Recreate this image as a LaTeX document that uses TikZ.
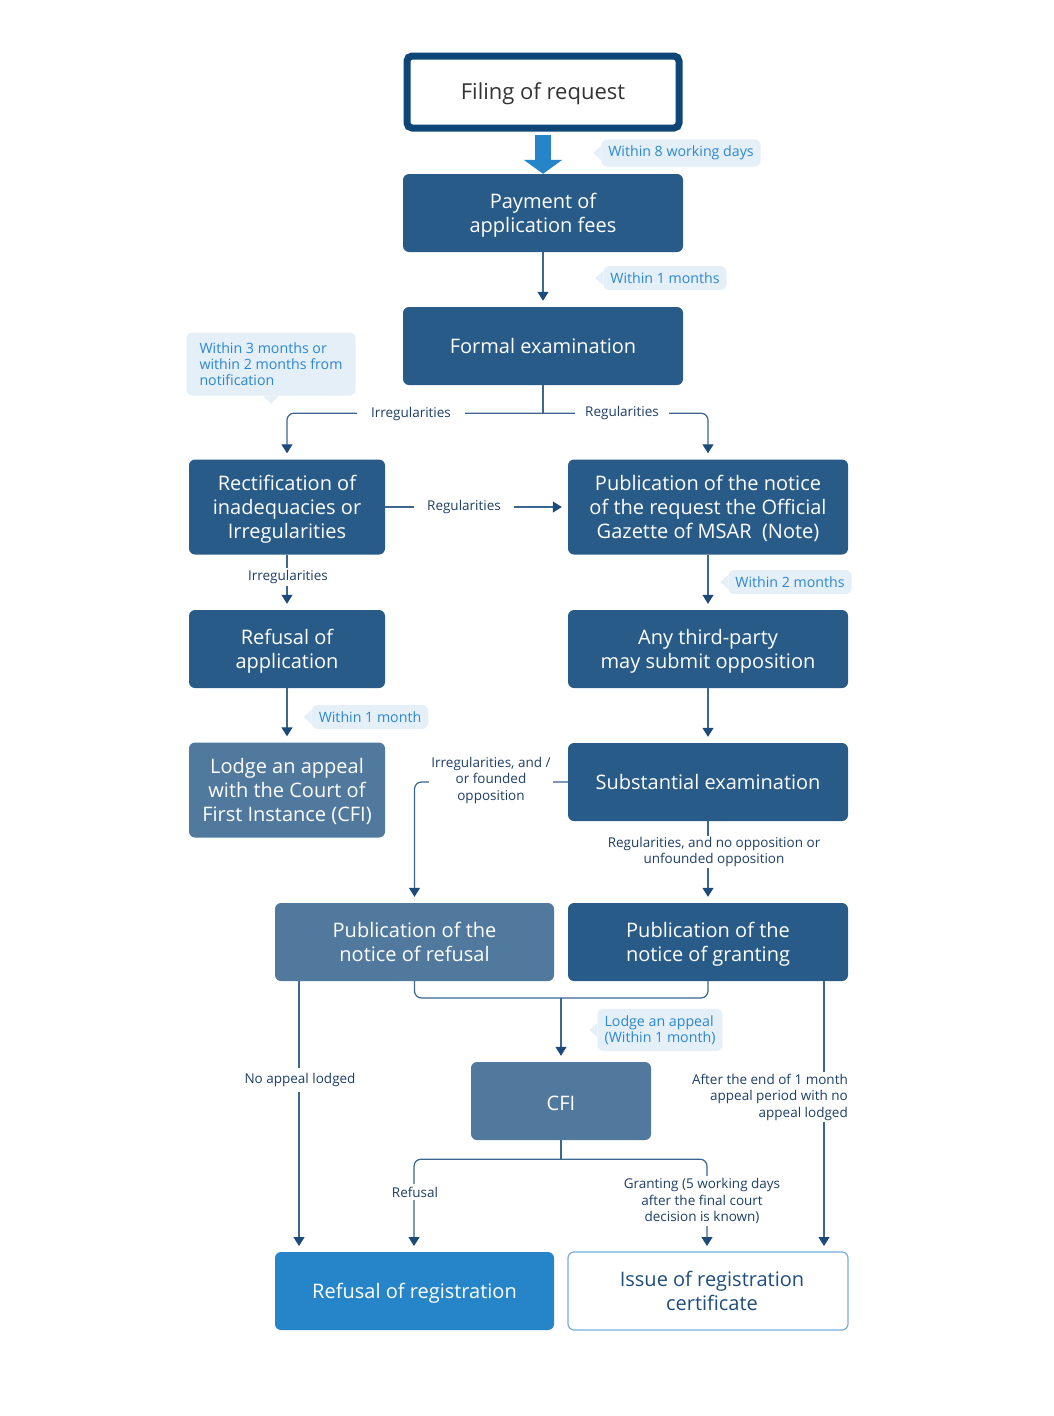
\documentclass[tikz,border=0pt]{standalone}
\usepackage{fontspec}
\setmainfont{Open Sans}
\usetikzlibrary{arrows.meta,calc}
\definecolor{darkbox}{HTML}{285B88}
\definecolor{lightbox}{HTML}{50799D}
\definecolor{brightbox}{HTML}{2685C8}
\definecolor{navyborder}{HTML}{0E4677}
\definecolor{linecol}{HTML}{3A6690}
\definecolor{tipcol}{HTML}{1D4A78}
\definecolor{labcol}{HTML}{1E3F66}
\definecolor{calltext}{HTML}{2B87D1}
\definecolor{callbg}{HTML}{E5EFF8}
\definecolor{issueborder}{HTML}{79AEDD}
\definecolor{issuetext}{HTML}{1F4D7C}
\newcommand\mlines[1]{\raisebox{-3pt}[\height][\depth]{\begin{tabular}{@{}c@{}}#1\end{tabular}}}
\newcommand\olines[1]{\raisebox{-2pt}[\height][\depth]{#1}}
\begin{document}
\begin{tikzpicture}[x=1pt,y=-1pt,
  boxbase/.style={rounded corners=6pt, align=center, inner sep=0pt,
    font=\fontsize{20}{24}\selectfont},
  darkstep/.style={boxbase, fill=darkbox, text=white},
  lightstep/.style={boxbase, fill=lightbox, text=white},
  wide/.style={minimum width=280pt, minimum height=78pt},
  narrow/.style={minimum width=196pt, minimum height=78pt},
  tall/.style={minimum height=95pt},
  conn/.style={draw=linecol, line width=1.2pt, rounded corners=7pt},
  arr/.style={conn, -{Triangle[width=11pt,length=9pt,color=tipcol]}, shorten >=6pt},
  lab/.style={fill=white, text=labcol, align=center, inner sep=3pt,
    font=\fontsize{13.5}{16.5}\selectfont},
  hlab/.style={lab, inner xsep=12pt},
  callout/.style={fill=callbg, text=calltext, rounded corners=6pt, align=left,
    inner xsep=7pt, inner ysep=6.5pt, font=\fontsize{14.2}{16}\selectfont},
]
\useasboundingbox (0,0) rectangle (1054,1416);
\fill[white] (0,0) rectangle (1054,1416);

% Nodes
\node[boxbase, wide, minimum height=72pt, minimum width=272pt, draw=navyborder, line width=7pt, fill=white, text=black!80, rounded corners=5pt, font=\fontsize{22}{24}\selectfont] (filing) at (543,92) {\olines{Filing of request}};
\node[darkstep, wide] (pay) at (543,213) {\mlines{Payment of\\application fees}};
\node[darkstep, wide] (formal) at (543,346) {Formal examination};
\node[darkstep, narrow, tall] (rect) at (287,507) {\mlines{Rectification of\\inadequacies or\\Irregularities}};
\node[darkstep, wide, tall] (pubnote) at (708,507) {\mlines{Publication of the notice\\of the request the Official\\Gazette of MSAR\ \ (Note)}};
\node[darkstep, narrow] (refapp) at (287,649) {\mlines{Refusal of\\application}};
\node[darkstep, wide] (third) at (708,649) {\mlines{Any third-party\\may submit opposition}};
\node[lightstep, narrow, tall] (lodge) at (287,790) {\mlines{Lodge an appeal\\with the Court of\\First Instance (CFI)}};
\node[darkstep, wide] (subst) at (708,782) {Substantial examination};
\node[lightstep, wide, minimum width=279pt] (pubref) at (414.5,942) {\mlines{Publication of the\\notice of refusal}};
\node[darkstep, wide] (pubgrant) at (708,942) {\mlines{Publication of the\\notice of granting}};
\node[lightstep, minimum width=180pt, minimum height=78pt] (cfi) at (561,1101) {\olines{CFI}};
\node[boxbase, wide, minimum width=279pt, fill=brightbox, text=white] (refreg) at (414.5,1291) {\olines{Refusal of registration}};
\node[boxbase, wide, fill=white, draw=issueborder, line width=1.2pt, text=issuetext] (issue) at (708,1291) {\hspace*{8pt}\mlines{Issue of registration\\certificate}};

% Filing -> Payment (thick arrow)
\draw[draw=brightbox, line width=16pt, -{Triangle[width=38pt,length=14pt]}] (filing.south) ++(0,3.5) -- (pay.north);

% Payment -> Formal
\draw[arr] (pay.south) -- (formal.north);

% Formal -> branches
\coordinate (fb) at ($(formal.south)+(0,28)$);
\draw[conn] (formal.south) -- (fb);
\draw[arr] (fb) -| (rect.north);
\draw[arr] (fb) -| (pubnote.north);
\node[hlab, inner xsep=14pt] (lirr1) at (411,414) {Irregularities};
\node[hlab, inner xsep=10pt] (lreg1) at (622,413) {Regularities};

% Rectification -> Publication
\draw[arr] (rect.east) -- (pubnote.west);
\node[hlab, inner xsep=13pt] (lreg2) at (464,507) {Regularities};

% Rectification -> Refusal of application
\draw[arr] (rect.south) -- (refapp.north);
\node[lab, inner ysep=2pt] (lirr2) at (288,577) {Irregularities};

% Publication -> third party
\draw[arr] (pubnote.south) -- (third.north);
% Refusal of app -> lodge
\draw[arr] (refapp.south) -- (lodge.north);
% third -> subst
\draw[arr] (third.south) -- (subst.north);

% Subst -> pub refusal
\draw[arr] (subst.west) -| (pubref.north);
\node[lab, inner sep=2pt] (lirr3) at (491,780) {Irregularities, and /\\or founded\\opposition};

% Subst -> pub granting
\draw[arr] (subst.south) -- (pubgrant.north);
\node[lab, inner sep=1pt] (lreg3) at (714,852) {Regularities, and no opposition or\\unfounded opposition};

% Publications -> CFI
\coordinate (jb) at (561,998);
\draw[conn] (pubref.south) |- (jb) -| (pubgrant.south);
\draw[arr] (jb) -- (cfi.north);

% Pub refusal -> refusal of registration
\coordinate (prl) at (299,981);
\coordinate (rrl) at (299,1252);
\draw[arr] (prl) -- (rrl);
\node[lab, inner ysep=5pt] (lnoapp) at (300,1080) {No appeal lodged};

% Pub granting -> issue
\coordinate (pgr) at (824,981);
\coordinate (isr) at (824,1252);
\draw[arr] (pgr) -- (isr);
\node[lab, align=right, inner sep=2pt, anchor=east] (lafter) at (850,1097) {After the end of 1 month\\appeal period with no\\appeal lodged};

% CFI -> outcomes
\coordinate (cb) at ($(cfi.south)+(0,19)$);
\coordinate (rrt) at (414,1252);
\coordinate (ist) at (707,1252);
\draw[conn] (cfi.south) -- (cb);
\draw[arr] (cb) -| (rrt);
\draw[arr] (cb) -| (ist);
\node[lab, inner sep=3pt] (lrefusal) at (415,1192) {Refusal};
\node[lab, inner sep=2pt] (lgrant) at (702,1201) {Granting (5 working days\\after the final court\\decision is known)};

% Callouts
\node[callout] (c1) at (681,153) {Within 8 working days};
\fill[callbg] ($(c1.west)+(0,-7)$) -- ($(c1.west)+(-8,0)$) -- ($(c1.west)+(0,7)$) -- cycle;
\node[callout] (c2) at (665,278) {Within 1 months};
\fill[callbg] ($(c2.west)+(0,-7)$) -- ($(c2.west)+(-8,0)$) -- ($(c2.west)+(0,7)$) -- cycle;
\node[callout, minimum width=169pt, minimum height=63pt] (c3) at (271,364) {Within 3 months or\\within 2 months from\\notification};
\fill[callbg] ($(c3.south)+(-8,0)$) -- ($(c3.south)+(0,8)$) -- ($(c3.south)+(8,0)$) -- cycle;
\node[callout] (c4) at (790,582) {Within 2 months};
\fill[callbg] ($(c4.west)+(0,-7)$) -- ($(c4.west)+(-8,0)$) -- ($(c4.west)+(0,7)$) -- cycle;
\node[callout] (c5) at (370,717) {Within 1 month};
\fill[callbg] ($(c5.west)+(0,-7)$) -- ($(c5.west)+(-8,0)$) -- ($(c5.west)+(0,7)$) -- cycle;
\node[callout] (c6) at (660,1030) {Lodge an appeal\\(Within 1 month)};
\fill[callbg] ($(c6.west)+(0,-7)$) -- ($(c6.west)+(-8,0)$) -- ($(c6.west)+(0,7)$) -- cycle;
\end{tikzpicture}
\end{document}
